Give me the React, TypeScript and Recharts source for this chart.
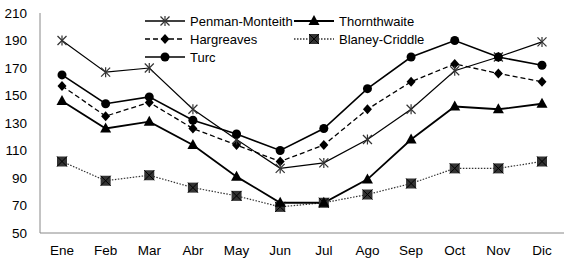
import { LineChart, Line, XAxis, YAxis } from "recharts";

const months = ["Ene", "Feb", "Mar", "Abr", "May", "Jun", "Jul", "Ago", "Sep", "Oct", "Nov", "Dic"];
const penman = [190, 167, 170, 140, 118, 97, 101, 118, 140, 168, 178, 189];
const thornthwaite = [146, 126, 131, 114, 91, 72, 72, 89, 118, 142, 140, 144];
const hargreaves = [157, 135, 145, 126, 114, 102, 114, 140, 160, 173, 166, 160];
const blaney = [102, 88, 92, 83, 77, 69, 72, 78, 86, 97, 97, 102];
const turc = [165, 144, 149, 132, 122, 110, 126, 155, 178, 190, 178, 172];
const yTicks = [50, 70, 90, 110, 130, 150, 170, 190, 210];

const data = months.map((m, i) => ({
  month: m,
  penman: penman[i],
  thornthwaite: thornthwaite[i],
  hargreaves: hargreaves[i],
  blaney: blaney[i],
  turc: turc[i],
}));

const font = "Liberation Sans, Arial, sans-serif";

const Star = ({ cx, cy }: any) => (
  <g stroke="#333" strokeWidth={1.2}>
    <line x1={cx - 4.5} y1={cy - 4.5} x2={cx + 4.5} y2={cy + 4.5} />
    <line x1={cx - 4.5} y1={cy + 4.5} x2={cx + 4.5} y2={cy - 4.5} />
    <line x1={cx} y1={cy - 5} x2={cx} y2={cy + 5} />
  </g>
);
const Tri = ({ cx, cy }: any) => (
  <path d={`M${cx},${cy - 6} L${cx + 5.5},${cy + 4} L${cx - 5.5},${cy + 4} Z`} fill="#000" />
);
const Diamond = ({ cx, cy }: any) => (
  <path d={`M${cx},${cy - 5} L${cx + 4.5},${cy} L${cx},${cy + 5} L${cx - 4.5},${cy} Z`} fill="#000" />
);
const Sq = ({ cx, cy }: any) => (
  <g>
    <rect x={cx - 5} y={cy - 5} width={10} height={10} fill="#333" />
    <line x1={cx - 5} y1={cy - 5} x2={cx + 5} y2={cy + 5} stroke="#000" strokeWidth={1} />
    <line x1={cx - 5} y1={cy + 5} x2={cx + 5} y2={cy - 5} stroke="#000" strokeWidth={1} />
  </g>
);
const Dot = ({ cx, cy }: any) => <circle cx={cx} cy={cy} r={4.5} fill="#000" />;

const legendItems = [
  { name: "Penman-Monteith", x: 0, y: 0, dash: undefined, color: "#000", width: 1.3, Mark: Star },
  { name: "Thornthwaite", x: 149, y: 0, dash: undefined, color: "#000", width: 2, Mark: Tri },
  { name: "Hargreaves", x: 0, y: 18, dash: "5 3", color: "#000", width: 1.3, Mark: Diamond },
  { name: "Blaney-Criddle", x: 149, y: 18, dash: "1.5 1.5", color: "#333", width: 1.3, Mark: Sq },
  { name: "Turc", x: 0, y: 36, dash: undefined, color: "#000", width: 1.6, Mark: Dot },
];

const LegendBox = () => (
  <svg width={300} height={50} style={{ overflow: "visible", display: "block" }}>
    {legendItems.map((it) => (
      <g key={it.name} transform={`translate(${it.x},${it.y})`}>
        <line x1={0} y1={6} x2={40} y2={6} stroke={it.color} strokeWidth={it.width} strokeDasharray={it.dash} />
        <it.Mark cx={20} cy={6} />
        <text x={45} y={11} fontSize={13} fill="#000" fontFamily={font}>
          {it.name}
        </text>
      </g>
    ))}
  </svg>
);

export default function App() {
  return (
    <div style={{ position: "absolute", top: 0, left: 0, width: 574, height: 258, background: "#fff" }}>
      <LineChart width={574} height={258} data={data} margin={{ top: 13, right: 10, bottom: 0, left: 0 }}>
        <XAxis
          dataKey="month"
          height={25}
          padding={{ left: 22, right: 22 }}
          tickLine={false}
          tickMargin={6}
          axisLine={{ stroke: "#888" }}
          tick={{ fontSize: 13.5, fill: "#000", fontFamily: font }}
        />
        <XAxis xAxisId="top" dataKey="month" orientation="top" height={0} padding={{ left: 22, right: 22 }} tick={false} tickLine={false} axisLine={{ stroke: "#000" }} />
        <YAxis
          width={40}
          domain={[50, 210]}
          ticks={yTicks}
          interval={0}
          tickLine={false}
          tickMargin={7}
          axisLine={{ stroke: "#888" }}
          tick={{ fontSize: 13.5, fill: "#000", fontFamily: font }}
        />
        <YAxis yAxisId="right" orientation="right" width={0} domain={[50, 210]} tick={false} tickLine={false} axisLine={{ stroke: "#000" }} />
        <Line dataKey="blaney" stroke="#333" strokeWidth={1.2} strokeDasharray="1.5 1.5" dot={<Sq />} isAnimationActive={false} />
        <Line dataKey="thornthwaite" stroke="#000" strokeWidth={1.8} dot={<Tri />} isAnimationActive={false} />
        <Line dataKey="hargreaves" stroke="#000" strokeWidth={1.3} strokeDasharray="5 3" dot={<Diamond />} isAnimationActive={false} />
        <Line dataKey="penman" stroke="#000" strokeWidth={1.2} dot={<Star />} isAnimationActive={false} />
        <Line dataKey="turc" stroke="#000" strokeWidth={1.6} dot={<Dot />} isAnimationActive={false} />
      </LineChart>
      <div style={{ position: "absolute", top: 15, left: 145 }}>
        <LegendBox />
      </div>
    </div>
  );
}
